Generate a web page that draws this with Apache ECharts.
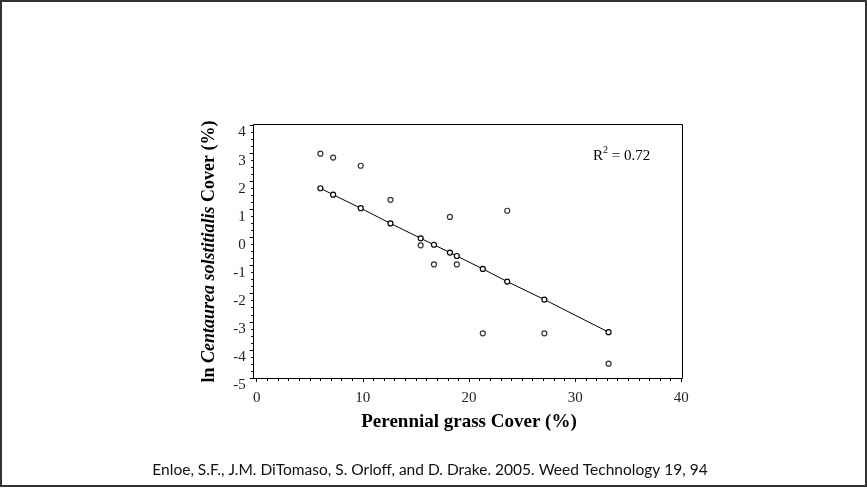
<!DOCTYPE html>
<html>
<head>
<meta charset="utf-8">
<script src="https://cdn.jsdelivr.net/npm/echarts@6/dist/echarts.min.js"></script>
<style>
  html, body { margin: 0; padding: 0; background: #fff; }
  #chart { width: 867px; height: 488px; }
</style>
</head>
<body>
<div id="chart"></div>
<script>
// perennial grass cover (%) for each site
const grassCover = [6.0, 7.2, 9.8, 12.6, 15.45, 16.7, 18.2, 18.85, 21.3, 23.6, 27.1, 33.15];
// observed ln cover of yellow starthistle
const observed = [2.98, 2.84, 2.55, 1.34, -0.28, -0.96, 0.73, -0.96, -3.41, 0.95, -3.41, -4.49];
// fitted values on the regression line
const predicted = [1.75, 1.52, 1.04, 0.50, -0.03, -0.26, -0.54, -0.66, -1.12, -1.57, -2.21, -3.37];
const xTicks = [0, 40, 10];
const yTicks = [-5, 4, 1];
const rSquared = '0.72';
const citation = 'Enloe, S.F., J.M. DiTomaso, S. Orloff, and D. Drake. 2005. Weed Technology 19, 94';

const serif = '"Liberation Serif", "Times New Roman", serif';

const chart = echarts.init(document.getElementById('chart'));

const symbolStyle = {
  color: '#fff',
  borderColor: '#000',
  borderWidth: 1.2
};

chart.setOption({
  animation: false,
  backgroundColor: '#fff',
  grid: {
    left: 256.7,
    top: 125,
    width: 424.6,
    height: 253
  },
  xAxis: {
    type: 'value',
    min: xTicks[0],
    max: xTicks[1],
    interval: xTicks[2],
    name: 'Perennial grass Cover (%)',
    nameLocation: 'middle',
    nameGap: 35,
    nameTextStyle: {
      fontFamily: serif,
      fontWeight: 'bold',
      fontSize: 19,
      color: '#000'
    },
    axisLine: { onZero: false, lineStyle: { color: '#000', width: 1 } },
    axisTick: { length: 4, lineStyle: { color: '#000' } },
    minorTick: { show: true, splitNumber: 10, length: 3, lineStyle: { color: '#000' } },
    axisLabel: {
      margin: 13,
      fontFamily: serif,
      fontSize: 15,
      color: '#222'
    },
    splitLine: { show: false }
  },
  yAxis: {
    type: 'value',
    min: yTicks[0],
    max: yTicks[1],
    interval: yTicks[2],
    offset: 3,
    name: '{b|ln }{i|Centaurea solstitialis}{b| Cover (%)}',
    nameLocation: 'middle',
    nameGap: 35,
    nameRotate: 90,
    nameTextStyle: {
      rich: {
        b: { fontFamily: serif, fontWeight: 'bold', fontSize: 18, color: '#000' },
        i: { fontFamily: serif, fontWeight: 'bold', fontStyle: 'italic', fontSize: 18, color: '#000' }
      }
    },
    axisLine: { onZero: false, lineStyle: { color: '#000', width: 1 } },
    axisTick: { length: 4, lineStyle: { color: '#000' } },
    minorTick: { show: true, splitNumber: 4, length: 2.5, lineStyle: { color: '#000' } },
    axisLabel: {
      margin: 8,
      verticalAlign: 'top',
      fontFamily: serif,
      fontSize: 15,
      color: '#222'
    },
    splitLine: { show: false }
  },
  graphic: [
    {
      type: 'rect',
      shape: { x: 1, y: 1, width: 865, height: 485 },
      style: { fill: 'none', stroke: '#333', lineWidth: 2 },
      silent: true
    },
    {
      type: 'rect',
      shape: { x: 253.5, y: 124.5, width: 429, height: 254 },
      style: { fill: 'none', stroke: '#000', lineWidth: 1 },
      silent: true
    },
    {
      type: 'text',
      left: 593,
      top: 145,
      style: {
        text: '{a|R}{s|2}{a| = ' + rSquared + '}',
        rich: {
          a: { fontFamily: serif, fontSize: 15, color: '#111', lineHeight: 19, verticalAlign: 'bottom' },
          s: { fontFamily: serif, fontSize: 10, color: '#111', lineHeight: 19, verticalAlign: 'top' }
        }
      },
      silent: true
    },
    {
      type: 'text',
      x: 430,
      y: 470,
      style: {
        text: citation,
        fontFamily: 'Lato, "Open Sans", sans-serif',
        fontSize: 15.5,
        fill: '#111',
        align: 'center',
        verticalAlign: 'middle'
      },
      silent: true
    }
  ],
  series: [
    {
      name: 'observed',
      type: 'scatter',
      symbol: 'circle',
      symbolSize: 5,
      itemStyle: symbolStyle,
      data: grassCover.map((x, i) => [x, observed[i]])
    },
    {
      name: 'fitted',
      type: 'line',
      symbol: 'circle',
      symbolSize: 5,
      showSymbol: true,
      itemStyle: symbolStyle,
      lineStyle: { color: '#000', width: 1 },
      data: grassCover.map((x, i) => [x, predicted[i]])
    }
  ]
});
</script>
</body>
</html>
